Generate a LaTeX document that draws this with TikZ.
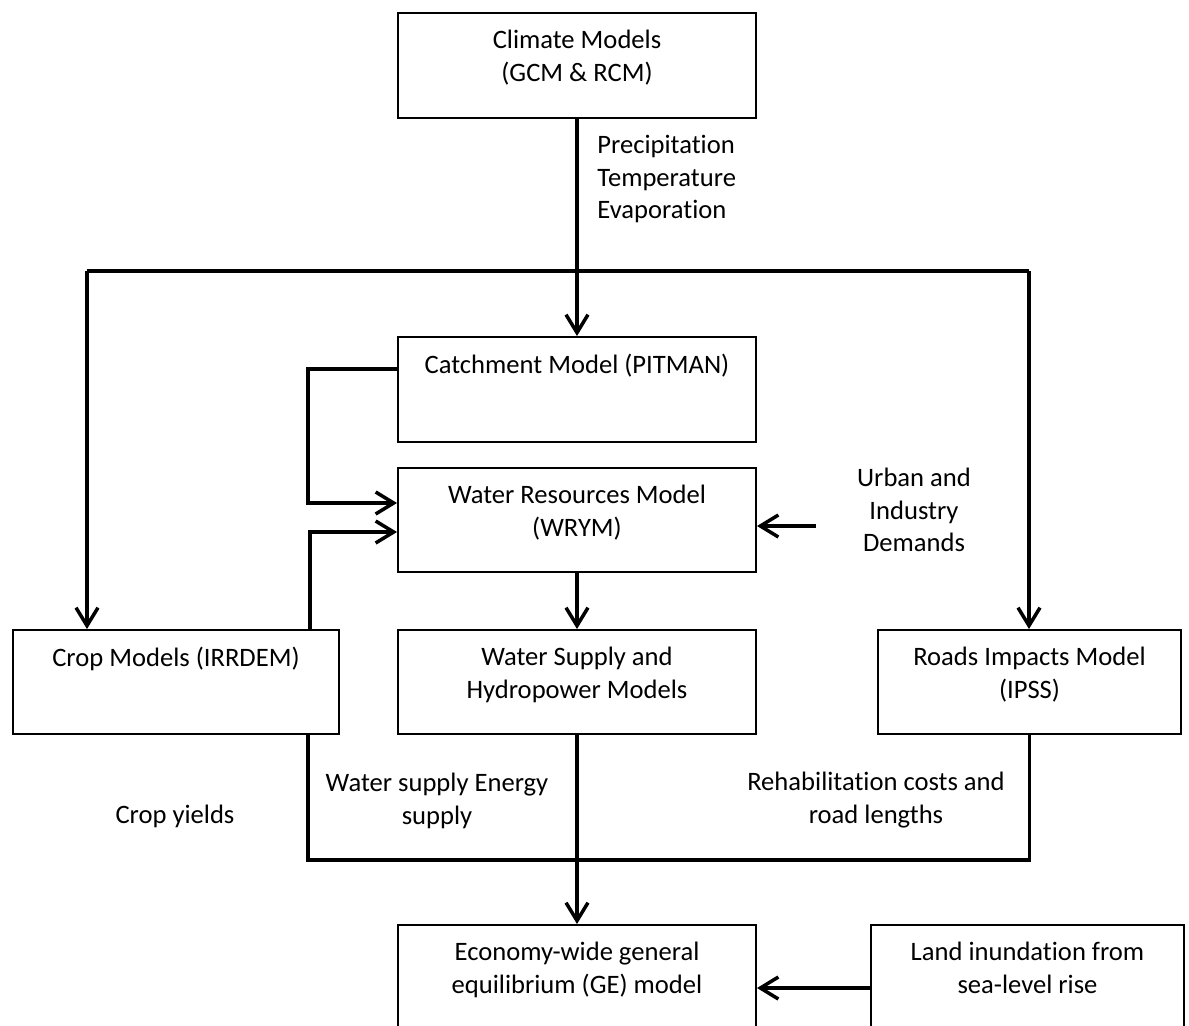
\documentclass[tikz,border=0pt]{standalone}
\usepackage{fontspec}
\setmainfont[Ligatures=NoCommon]{Carlito}
\usetikzlibrary{arrows.meta,calc}
\tikzset{
  box/.style={draw, line width=1pt, anchor=north west, inner sep=0pt},
  boxtext/.style={anchor=north, align=center, inner sep=0pt, yshift=-9pt},
  flow/.style={line width=1.75pt},
  note/.style={align=center, inner sep=0pt}
}
\begin{document}
\begin{tikzpicture}[x=0.5pt, y=-0.5pt, >={Straight Barb[length=9pt,width=11pt]},
                    font=\fontsize{13.3}{16.25}\selectfont]
                    \useasboundingbox (0,0) rectangle (1189,1025);
                    \clip (0,0) rectangle (1189,1025);
                    % Boxes
                    \node[box, minimum width=179pt, minimum height=52.5pt,
                          label={[boxtext]north:Climate Models\\(GCM \& RCM)}] (clim) at (397,12) {};
                    \node[box, minimum width=179pt, minimum height=52.5pt,
                          label={[boxtext]north:Catchment Model (PITMAN)}] (catch) at (397,336) {};
                    \node[box, minimum width=179pt, minimum height=52pt,
                          label={[boxtext]north:Water Resources Model\\(WRYM)}] (wrym) at (397,467) {};
                    \node[box, minimum width=163pt, minimum height=52pt,
                          label={[boxtext]north:Crop Models (IRRDEM)}] (crop) at (12,629) {};
                    \node[box, minimum width=179pt, minimum height=52pt,
                          label={[boxtext]north:Water Supply and\\Hydropower Models}] (water) at (397,629) {};
                    \node[box, minimum width=151.5pt, minimum height=52pt,
                          label={[boxtext]north:Roads Impacts Model\\(IPSS)}] (roads) at (877,629) {};
                    \node[box, minimum width=179pt, minimum height=60pt,
                          label={[boxtext]north:Economy-wide general\\equilibrium (GE) model}] (ge) at (397,924) {};
                    \node[box, minimum width=156.5pt, minimum height=60pt,
                          label={[boxtext]north:Land inundation from\\sea-level rise}] (land) at (870,924) {};
                    % Labels
                    \node[note, align=left, anchor=north west] (vars) at (597,135) {Precipitation\\Temperature\\Evaporation};
                    \node[note] (urban) at (914,510) {Urban and\\Industry\\Demands};
                    \node[note] (yields) at (175,816) {Crop yields};
                    \node[note] (wsup) at (437,801) {Water supply Energy\\supply};
                    \node[note] (rehab) at (876,800) {Rehabilitation costs and\\road lengths};
                    % Climate to models
                    \coordinate (leftdrop) at (87,271);
                    \coordinate (rightdrop) at (1029,271);
                    \draw[flow, ->] (clim) -- (catch);
                    \draw[flow] (leftdrop) -- (rightdrop);
                    \draw[flow, ->] (leftdrop) -- (leftdrop |- crop.north);
                    \draw[flow, ->] (rightdrop) -- (rightdrop |- roads.north);
                    % Into WRYM
                    \draw[flow, ->] ($(catch.north west)+(0,33)$) -- ++(-89,0) |- ($(wrym.north west)+(0,36)$);
                    \draw[flow, ->] ($(crop.north east)+(-30,0)$) |- ($(wrym.north west)+(0,65)$);
                    \coordinate (demand) at (816,526);
                    \draw[flow, ->] (demand) -- (demand -| wrym.east);
                    \draw[flow, ->] (wrym) -- (water);
                    % Into GE model
                    \draw[flow] ($(crop.south east)+(-32,0)$) |- ($(roads.south)+(0,125)$) -- (roads.south);
                    \draw[flow, ->] (water) -- (ge);
                    \draw[flow, ->] ($(land.north west)+(0,64)$) -- ($(ge.north east)+(0,64)$);
                \end{tikzpicture}
\end{document}
